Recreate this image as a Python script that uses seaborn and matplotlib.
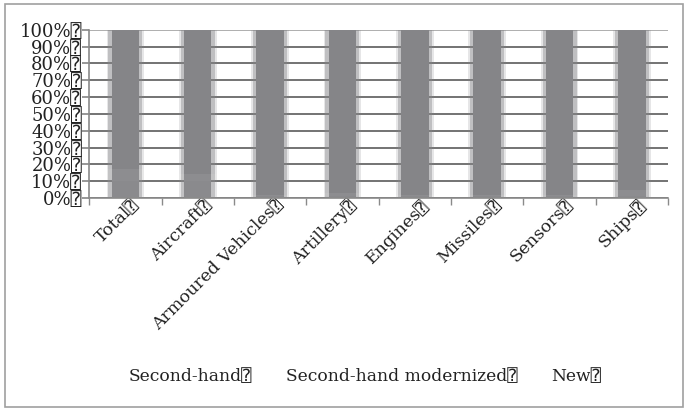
import matplotlib
matplotlib.use('Agg')
import matplotlib.pyplot as plt
import matplotlib.transforms as mtrans
from matplotlib.patches import Patch, Rectangle
import seaborn as sns
import pandas as pd
import numpy as np

BOX = '\u2370'

categories = ['Total', 'Aircraft', 'Armoured Vehicles', 'Artillery',
              'Engines', 'Missiles', 'Sensors', 'Ships']
second_hand = [10, 10, 1, 1, 1, 1, 1, 1]
second_hand_mod = [7, 4, 1, 2, 1, 1, 1, 4]
new = [83, 86, 98, 97, 98, 98, 98, 95]
series = ['Second-hand', 'Second-hand modernized', 'New']
yticks = list(range(0, 101, 10))

sns.set_theme(style='white')
plt.rcParams['font.family'] = ['DejaVu Serif', 'DejaVu Sans', 'DejaVu Sans Mono']

df = pd.DataFrame({'cat': categories, series[0]: second_hand,
                   series[1]: second_hand_mod, series[2]: new})
tot = df[series].sum(axis=1)
for s in series:
    df[s] = df[s] / tot * 100

fig = plt.figure(figsize=(6.86, 4.09), dpi=100)
ax = fig.add_axes([0.130, 0.516, 0.844, 0.411])

colors = ['#8a8a8d', '#8d8d90', '#858588']
# soft edges: wide faint layers, then the solid bar
for w, a in [(0.52, 0.2), (0.47, 0.4), (0.38, 1.0)]:
    bottom = np.zeros(len(df))
    for s, c in zip(series, colors):
        sns.barplot(data=df, x='cat', y=s, bottom=bottom, color=c, width=w,
                    alpha=a, linewidth=0, ax=ax)
        bottom = bottom + df[s].values

ax.set_ylim(0, 100)
ax.set_xlim(-0.5, len(categories) - 0.5)
ax.set_yticks(yticks)
ax.set_yticklabels([f'{v}%{BOX}' for v in yticks], fontsize=13, color='#222222')
ax.yaxis.grid(True, color='#686868', linewidth=1.3)
for b in ax.patches:
    b.set_zorder(2)
for gl in ax.get_ygridlines():
    gl.set_zorder(3)
ax.get_ygridlines()[-1].set_color('#a8a8a8')

ax.set_xticks(np.arange(len(categories)))
ax.set_xticklabels([f'{c}{BOX}' for c in categories], rotation=45, ha='right',
                   rotation_mode='anchor', fontsize=12.5, color='#222222')
ax.tick_params(axis='x', length=0, pad=-1)
ax.set_xticks(np.arange(len(categories) + 1) - 0.5, minor=True)
ax.tick_params(axis='x', which='minor', length=5, color='#8a8a8a', direction='out', bottom=True)
ax.tick_params(axis='y', length=5, color='#8a8a8a', direction='out', left=True, pad=0)
ax.set_xlabel('')
ax.set_ylabel('')
for side in ['top', 'right']:
    ax.spines[side].set_visible(False)
for side in ['left', 'bottom']:
    ax.spines[side].set_color('#8a8a8a')
    ax.spines[side].set_linewidth(1.2)

offset = mtrans.ScaledTranslation(5 / 100, 0, fig.dpi_scale_trans)
for lab in ax.get_xticklabels():
    lab.set_transform(lab.get_transform() + offset)

handles = [Patch(facecolor='none', edgecolor='none') for _ in series]
fig.legend(handles, [f'{s}{BOX}' for s in series], loc='center', ncol=3,
           bbox_to_anchor=(0.532, 0.08), frameon=False, fontsize=12.3,
           handlelength=0, handletextpad=0, columnspacing=2.0,
           labelcolor='#222222')

fig.add_artist(Rectangle((0.0075, 0.005), 0.988, 0.985, fill=False,
                         edgecolor='#a0a0a0', lw=1.2, transform=fig.transFigure))

fig.savefig('out.png', dpi=100)
